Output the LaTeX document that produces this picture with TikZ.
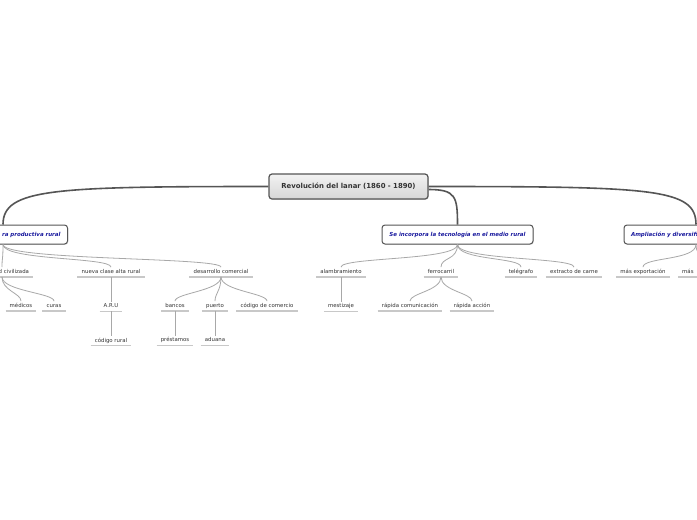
\documentclass[tikz,border=0pt]{standalone}
\usepackage{fontspec}
\setmainfont{DejaVu Sans}
\usetikzlibrary{positioning,shadows}

\definecolor{edgegray}{HTML}{555555}
\definecolor{linkgray}{HTML}{A8A8A8}
\definecolor{ulgray}{HTML}{C8C8C8}
\definecolor{topicblue}{HTML}{1A1A9E}
\definecolor{subtxt}{HTML}{333333}

\tikzset{
  rootbox/.style={draw=edgegray, line width=1.2pt, rounded corners=3pt,
    top color=white!95!black, bottom color=white!84!black,
    minimum width=159pt, minimum height=25pt, inner sep=0pt,
    font=\fontsize{6.9}{8}\selectfont\bfseries, text=black!80,
    drop shadow={opacity=0.25, shadow xshift=0.8pt, shadow yshift=-0.8pt}},
  topicbox/.style={draw=edgegray, line width=1pt, rounded corners=3pt, fill=white,
    minimum height=19pt, inner xsep=7pt, inner ysep=0pt,
    font=\fontsize{5.5}{6}\selectfont\bfseries\itshape, text=topicblue,
    drop shadow={opacity=0.25, shadow xshift=0.8pt, shadow yshift=-0.8pt}},
  subtext/.style={inner xsep=4pt, inner ysep=2pt, text height=4.1pt, text depth=1.3pt,
    font=\fontsize{5.4}{6}\selectfont, text=subtxt,
    append after command={(\tikzlastnode.south west) edge[draw=ulgray, line width=1.3pt] (\tikzlastnode.south east)}},
  trunk/.style={draw=edgegray, line width=1.6pt},
  branch/.style={draw=linkgray, line width=0.8pt},
}

\begin{document}
\begin{tikzpicture}[x=1pt, y=-1pt, node distance=24.6pt]
        \fill[white] (0,0) rectangle (697,520);
        \useasboundingbox (0,0) rectangle (697,520);
        \clip (0,0) rectangle (697,520);

        \node[rootbox] (root) at (348.5,186.5) {Revolución del lanar (1860 - 1890)};
        \node[topicbox, text width=115pt, align=right] (lmain) at (3,234.5) {ra productiva rural};
        \node[topicbox, minimum width=151pt] (tech) at (457.5,234.5) {Se incorpora la tecnología en el medio rural};
        \node[topicbox, text width=130pt, align=left] (rmain) at (696,234.5) {Ampliación y diversifi};

        %% left side
        \node[subtext, text width=54pt, align=right] (civ) at (2,272) {d civilizada};
        \node[subtext] (nueva) at (111,272) {nueva clase alta rural};
        \node[subtext] (comer) at (221,272) {desarrollo comercial};
        \node[subtext] (medicos) at (21,306) {médicos};
        \node[subtext] (curas) at (54,306) {curas};
        \node[subtext, below=of nueva] (aru) {A.R.U};
        \node[subtext, below=of aru] (codrural) {código rural};
        \node[subtext] (bancos) at (175,306) {bancos};
        \node[subtext] (puerto) at (215,306) {puerto};
        \node[subtext] (codcom) at (267,306) {código de comercio};
        \node[subtext, below=of bancos] (prest) {préstamos};
        \node[subtext, below=of puerto] (aduana) {aduana};

        %% middle
        \node[subtext] (alam) at (341,272) {alambramiento};
        \node[subtext] (ferro) at (441,272) {ferrocarril};
        \node[subtext] (teleg) at (521,272) {telégrafo};
        \node[subtext] (extr) at (574,272) {extracto de carne};
        \node[subtext, below=of alam] (mest) {mestizaje};
        \node[subtext] (rcom) at (410,306) {rápida comunicación};
        \node[subtext] (racc) at (472,306) {rápida acción};

        %% right side
        \node[subtext] (masexp) at (643,272) {más exportación};
        \node[subtext, anchor=west, text width=60pt, align=left] (mas2) at (678,272) {más};

        % root to main topics
        \draw[trunk] (root.west) .. controls +(-215,0) and +(0,-36) .. (lmain.north);
        \draw[trunk] ([yshift=-3pt]root.east) .. controls +(27,0) and +(0,-28) .. (tech.north);
        \draw[trunk] (root.east) .. controls +(225,0) and +(0,-36) .. (rmain.north);

        % topics to subtopics
        \foreach \n in {civ,nueva,comer}
          \draw[branch] (lmain.south) .. controls +(0,16) and +(0,-10) .. (\n.north);
        \foreach \n in {alam,ferro,teleg,extr}
          \draw[branch] (tech.south) .. controls +(0,16) and +(0,-10) .. (\n.north);
        \foreach \n in {masexp,mas2}
          \draw[branch] (rmain.south) .. controls +(0,16) and +(0,-10) .. (\n.north);

        \foreach \n in {medicos,curas}
          \draw[branch] (civ.south) .. controls +(0,14) and +(0,-8) .. (\n.north);
        \foreach \n in {bancos,puerto,codcom}
          \draw[branch] (comer.south) .. controls +(0,14) and +(0,-8) .. (\n.north);
        \foreach \n in {rcom,racc}
          \draw[branch] (ferro.south) .. controls +(0,14) and +(0,-8) .. (\n.north);

        \draw[branch] (nueva) -- (aru);
        \draw[branch] (aru) -- (codrural);
        \draw[branch] (bancos) -- (prest);
        \draw[branch] (puerto) -- (aduana);
        \draw[branch] (alam) -- (mest);
\end{tikzpicture}
\end{document}
